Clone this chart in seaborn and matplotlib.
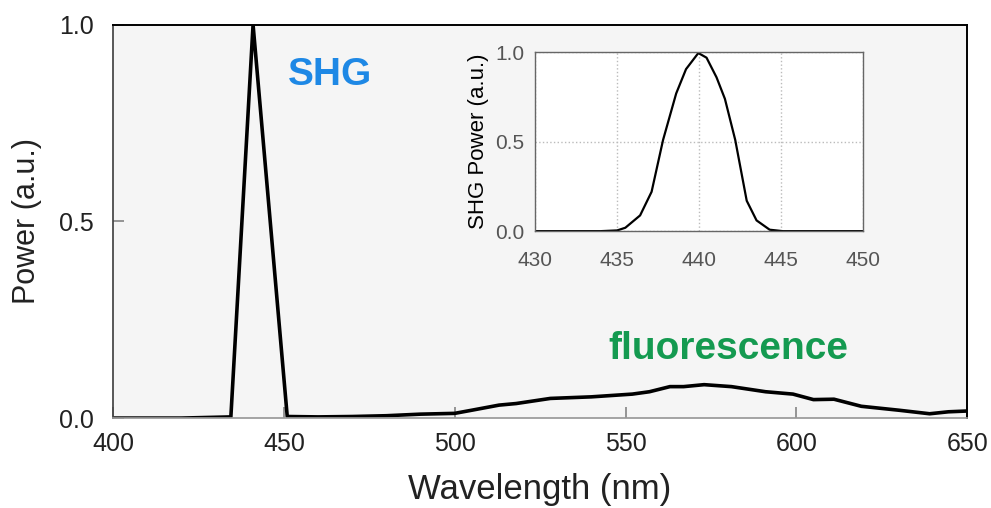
import numpy as np
import pandas as pd
import matplotlib
matplotlib.use("Agg")
import matplotlib.pyplot as plt
import seaborn as sns

# main spectrum
wl = [400, 420, 434.5, 441, 451, 460, 470, 480, 490, 500, 505, 513, 518, 528, 540, 552,
      557, 563, 567, 573, 581, 591, 599, 605, 611, 619, 630, 639, 644.5, 650]
power = [0.0, 0.0, 0.003, 1.0, 0.004, 0.003, 0.004, 0.006, 0.01, 0.012, 0.02, 0.033, 0.037,
         0.05, 0.054, 0.061, 0.067, 0.08, 0.08, 0.085, 0.08, 0.067, 0.061, 0.047, 0.048,
         0.03, 0.02, 0.011, 0.016, 0.018]

# inset: SHG peak zoom
shg_wl = [430, 434.0, 435.0, 435.5, 436.4, 437.1, 437.8, 438.6, 439.2, 439.95, 440.45,
          441.06, 441.57, 442.2, 442.9, 443.5, 444.3, 445.1, 450]
shg_pow = [0.0, 0.0, 0.004, 0.019, 0.088, 0.22, 0.51, 0.77, 0.906, 0.996, 0.97,
           0.86, 0.74, 0.51, 0.17, 0.06, 0.008, 0.0, 0.0]

df = pd.DataFrame({"wl": wl, "power": power})
df_shg = pd.DataFrame({"wl": shg_wl, "power": shg_pow})

sns.set_theme(style="ticks")
plt.rcParams["font.family"] = ["Liberation Sans", "DejaVu Sans"]

fig = plt.figure(figsize=(9.91, 5.08), dpi=100)
fig.patch.set_facecolor("white")
ax = fig.add_axes([0.114, 0.177, 0.862, 0.774])
ax.set_facecolor("#f5f5f5")
sns.lineplot(data=df, x="wl", y="power", ax=ax, color="black", linewidth=2.6)
ax.set_xlim(400, 650)
ax.set_ylim(0, 1.0)
ax.set_xticks([400, 450, 500, 550, 600, 650])
ax.set_yticks([0.0, 0.5, 1.0])
ax.set_yticklabels(["0.0", "0.5", "1.0"])
ax.tick_params(direction="in", length=8, color="#888888", labelsize=18, pad=14,
               labelcolor="#222222")
ax.tick_params(axis="x", pad=10)
ax.set_xlabel("Wavelength (nm)", fontsize=25, labelpad=12, color="#222222")
ax.set_ylabel("Power (a.u.)", fontsize=22, labelpad=12, color="#222222")
for s in ["top", "right"]:
    ax.spines[s].set_color("black")
    ax.spines[s].set_linewidth(1.4)
ax.spines["left"].set_color("#444444")
ax.spines["bottom"].set_color("#999999")

ax.text(463.5, 0.873, "SHG", color="#1e88e5", fontsize=28, fontweight="bold",
        ha="center", va="center")
ax.text(580, 0.175, "fluorescence", color="#149a50", fontsize=28, fontweight="bold",
        ha="center", va="center")

# inset
ins = fig.add_axes([0.540, 0.545, 0.331, 0.352])
ins.set_facecolor("white")
sns.lineplot(data=df_shg, x="wl", y="power", ax=ins, color="black", linewidth=1.6)
ins.set_xlim(430, 450)
ins.set_ylim(0, 1.0)
ins.set_xticks([430, 435, 440, 445, 450])
ins.set_yticks([0.0, 0.5, 1.0])
ins.set_yticklabels(["0.0", "0.5", "1.0"])
ins.grid(True, linestyle=":", color="#bbbbbb", linewidth=1)
ins.tick_params(length=0, labelsize=15, labelcolor="#555555", pad=8)
ins.tick_params(axis="x", pad=14)
ins.set_xlabel("")
ins.set_ylabel("SHG Power (a.u.)", fontsize=16, labelpad=4, color="black")
for s in ins.spines.values():
    s.set_color("#666666")
    s.set_linewidth(1)

fig.savefig("out.png", dpi=100)
